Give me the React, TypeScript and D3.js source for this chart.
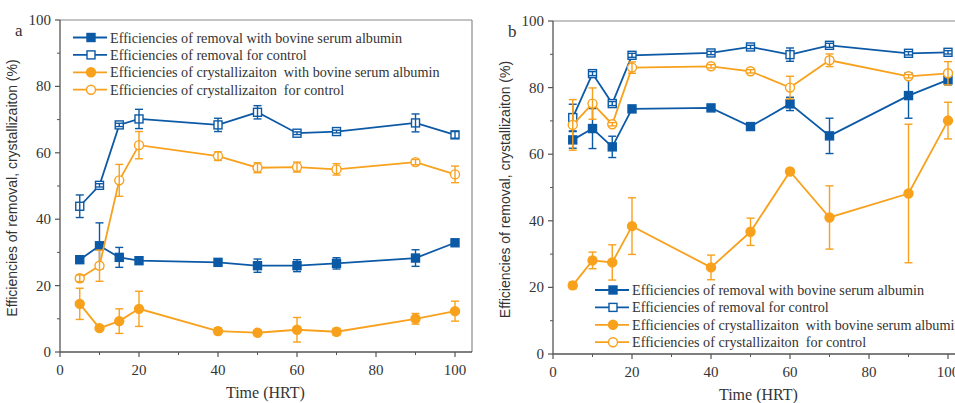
import React from 'react';
import * as d3 from 'd3';

// sampling times (HRT)
const hrt = [5, 10, 15, 20, 40, 50, 60, 70, 90, 100];

// panel a
const aRemovalBsa = [27.8, 32.0, 28.5, 27.5, 27.0, 26.0, 26.0, 26.7, 28.3, 32.9];
const aRemovalBsaErr = [0.8, 6.9, 3.0, 1.0, 0.8, 2.0, 1.8, 1.7, 2.5, 0.7];
const aRemovalCtl = [43.9, 50.2, 68.4, 70.2, 68.4, 72.2, 65.9, 66.4, 69.0, 65.4];
const aRemovalCtlErr = [3.4, 0.5, 0.5, 2.9, 2.0, 2.0, 0.4, 0.4, 2.7, 1.0];
const aCrystBsa = [14.5, 7.2, 9.3, 13.0, 6.3, 5.8, 6.7, 6.1, 10.0, 12.3];
const aCrystBsaErr = [4.7, 0.7, 3.7, 5.3, 1.0, 0.5, 3.7, 1.0, 1.6, 3.0];
const aCrystCtl = [22.2, 26.0, 51.7, 62.3, 59.0, 55.5, 55.7, 55.0, 57.2, 53.5];
const aCrystCtlErr = [1.0, 4.7, 4.8, 4.1, 1.3, 1.5, 1.5, 1.7, 0.8, 2.5];

// panel b
const bRemovalBsa = [64.3, 67.7, 62.2, 73.6, 73.9, 68.3, 75.1, 65.5, 77.6, 82.3];
const bRemovalBsaErr = [2.5, 6.0, 3.2, 1.0, 0.6, 1.0, 2.0, 5.3, 6.8, 1.5];
const bRemovalCtl = [71.0, 84.2, 75.2, 89.7, 90.4, 92.2, 89.9, 92.7, 90.3, 90.6];
const bRemovalCtlErr = [4.0, 0.6, 0.6, 0.6, 0.5, 0.5, 2.0, 0.6, 0.5, 0.5];
const bCrystBsa = [20.6, 28.1, 27.5, 38.4, 26.0, 36.7, 54.8, 41.0, 48.2, 70.1];
const bCrystBsaErr = [1.0, 2.5, 5.3, 8.5, 3.7, 4.1, 0.5, 9.5, 20.8, 5.5];
const bCrystCtl = [68.8, 75.2, 69.0, 86.0, 86.4, 84.9, 80.0, 88.2, 83.4, 84.3];
const bCrystCtlErr = [7.6, 4.7, 0.5, 1.7, 0.5, 0.5, 3.4, 1.9, 0.5, 3.5];

const legendLabels = [
  'Efficiencies of removal with bovine serum albumin',
  'Efficiencies of removal for control',
  'Efficiencies of crystallizaiton  with bovine serum albumin',
  'Efficiencies of crystallizaiton  for control',
];

const xTicks = [0, 20, 40, 60, 80, 100];
const yTicks = [0, 20, 40, 60, 80, 100];

const BLUE = '#0c5aa6';
const ORANGE = '#f8a11c';
const SERIF = { fontFamily: 'Liberation Serif, serif' };
const SANS = { fontFamily: 'Liberation Sans, sans-serif' };

type Series = { values: number[]; errs: number[]; color: string; shape: 'square' | 'circle'; open: boolean };

const Marker = ({ x, y, s }: { x: number; y: number; s: Series }) => {
  const fill = s.open ? '#fff' : s.color;
  if (s.shape === 'square')
    return <rect x={x - 4} y={y - 4} width={8} height={8} fill={fill} stroke={s.color} strokeWidth={1.4} />;
  return <circle cx={x} cy={y} r={4.5} fill={fill} stroke={s.color} strokeWidth={1.4} />;
};

const Panel = ({ left, top, bottom, letter, series, legendX, legendY }: {
  left: number; top: number; bottom: number; letter: string; series: Series[]; legendX: number; legendY: number;
}) => {
  const x = d3.scaleLinear().domain([0, 104.3]).range([left, left + 412]);
  const y = d3.scaleLinear().domain([0, 100]).range([bottom, top]);
  const line = d3.line<number>().x((_, i) => x(hrt[i])).y((d) => y(d));
  const minorX = d3.range(10, 101, 20);
  const minorY = d3.range(10, 100, 20);
  const right = x(104.3);

  return (
    <g>
      {/* frame */}
      <line x1={left} x2={right} y1={top} y2={top} stroke="#8a8a8a" strokeWidth={1.2} />
      <line x1={right} x2={right} y1={top} y2={bottom} stroke="#8a8a8a" strokeWidth={1.2} />
      <line x1={left} x2={right} y1={bottom} y2={bottom} stroke="#555" strokeWidth={1.3} />
      <line x1={left} x2={left} y1={top} y2={bottom} stroke="#555" strokeWidth={1.3} />

      {xTicks.map((t) => (
        <g key={'x' + t}>
          <line x1={x(t)} x2={x(t)} y1={bottom} y2={bottom + 5} stroke="#555" strokeWidth={1.2} />
          <text x={x(t)} y={bottom + 23} textAnchor="middle" style={SERIF} fontSize={15} fill="#333">{t}</text>
        </g>
      ))}
      {minorX.map((t) => (
        <line key={'mx' + t} x1={x(t)} x2={x(t)} y1={bottom} y2={bottom + 3} stroke="#555" strokeWidth={1} />
      ))}
      {yTicks.map((t) => (
        <g key={'y' + t}>
          <line x1={left - 5} x2={left} y1={y(t)} y2={y(t)} stroke="#555" strokeWidth={1.2} />
          <text x={left - 9} y={y(t) + 5} textAnchor="end" style={SERIF} fontSize={15} fill="#333">{t}</text>
        </g>
      ))}
      {minorY.map((t) => (
        <line key={'my' + t} x1={left - 3} x2={left} y1={y(t)} y2={y(t)} stroke="#555" strokeWidth={1} />
      ))}

      <text x={left - 45} y={top + 16} style={SERIF} fontSize={17} fill="#333">{letter}</text>
      <text transform={`translate(${left - 43},${(top + bottom) / 2 + 2}) rotate(-90)`} textAnchor="middle"
        style={SANS} fontSize={14} fill="#333">Efficiencies of removal, crystallizaiton (%)</text>
      <text x={x(52)} y={bottom + 46} textAnchor="middle" style={SERIF} fontSize={16} fill="#333">Time (HRT)</text>

      {series.map((s, k) => (
        <g key={'s' + k}>
          <path d={line(s.values) ?? ''} fill="none" stroke={s.color} strokeWidth={1.8} />
          {s.values.map((v, i) => (
            <Marker key={i} x={x(hrt[i])} y={y(v)} s={s} />
          ))}
          {s.values.map((v, i) => {
            const cx = x(hrt[i]);
            const y1 = y(v + s.errs[i]);
            const y2 = y(v - s.errs[i]);
            return (
              <g key={'e' + i} stroke={s.color} strokeWidth={1.4}>
                <line x1={cx} x2={cx} y1={y1} y2={y2} />
                <line x1={cx - 4} x2={cx + 4} y1={y1} y2={y1} />
                <line x1={cx - 4} x2={cx + 4} y1={y2} y2={y2} />
              </g>
            );
          })}
        </g>
      ))}

      {series.map((s, k) => {
        const ly = legendY + k * 17.4;
        return (
          <g key={'l' + k}>
            <line x1={legendX} x2={legendX + 34} y1={ly} y2={ly} stroke={s.color} strokeWidth={1.8} />
            <Marker x={legendX + 18} y={ly} s={s} />
            <text x={legendX + 37} y={ly + 5} style={{ ...SERIF, whiteSpace: 'pre' }} fontSize={14.2} fill="#333">
              {legendLabels[k]}
            </text>
          </g>
        );
      })}
    </g>
  );
};

const mk = (values: number[], errs: number[], color: string, shape: 'square' | 'circle', open: boolean): Series =>
  ({ values, errs, color, shape, open });

export default function App() {
  const seriesA = [
    mk(aRemovalBsa, aRemovalBsaErr, BLUE, 'square', false),
    mk(aRemovalCtl, aRemovalCtlErr, BLUE, 'square', true),
    mk(aCrystBsa, aCrystBsaErr, ORANGE, 'circle', false),
    mk(aCrystCtl, aCrystCtlErr, ORANGE, 'circle', true),
  ];
  const seriesB = [
    mk(bRemovalBsa, bRemovalBsaErr, BLUE, 'square', false),
    mk(bRemovalCtl, bRemovalCtlErr, BLUE, 'square', true),
    mk(bCrystBsa, bCrystBsaErr, ORANGE, 'circle', false),
    mk(bCrystCtl, bCrystCtlErr, ORANGE, 'circle', true),
  ];
  return (
    <svg width={955} height={403} style={{ position: 'absolute', left: 0, top: 0, background: '#fff' }}>
      <rect width={955} height={403} fill="#fff" />
      <Panel left={60} top={20} bottom={352} letter="a" series={seriesA} legendX={73} legendY={37.5} />
      <Panel left={553} top={21} bottom={354} letter="b" series={seriesB} legendX={595} legendY={290} />
    </svg>
  );
}
